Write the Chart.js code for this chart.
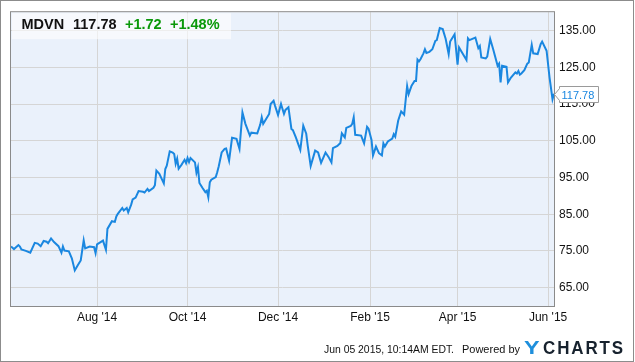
<!DOCTYPE html>
<html>
<head>
<meta charset="utf-8">
<title>MDVN</title>
<script src="https://cdn.jsdelivr.net/npm/chart.js@4.4.1/dist/chart.umd.min.js"></script>
<style>
    html, body { margin: 0; padding: 0; background: #fff; }
    canvas { display: block; }
</style>
</head>
<body>
<canvas id="chart" width="635" height="362"></canvas>
<script>
/* --------------------------
   DATA
-------------------------- */
const ticker = "MDVN";
const lastPrice = "117.78";
const change = "+1.72";
const changePct = "+1.48%";
const stamp = "Jun 05 2015, 10:14AM EDT.";

const dates = [
    "2014-06-04", "2014-06-06", "2014-06-09", "2014-06-10", "2014-06-11", "2014-06-14", "2014-06-17", "2014-06-20",
    "2014-06-22", "2014-06-24", "2014-06-26", "2014-06-28", "2014-06-29", "2014-07-01", "2014-07-03", "2014-07-06",
    "2014-07-08", "2014-07-09", "2014-07-10", "2014-07-13", "2014-07-15", "2014-07-17", "2014-07-19", "2014-07-21",
    "2014-07-23", "2014-07-24", "2014-07-27", "2014-07-30", "2014-07-31", "2014-08-01", "2014-08-05", "2014-08-07",
    "2014-08-08", "2014-08-11", "2014-08-13", "2014-08-14", "2014-08-15", "2014-08-18", "2014-08-19", "2014-08-21",
    "2014-08-22", "2014-08-24", "2014-08-25", "2014-08-27", "2014-08-29", "2014-09-01", "2014-09-02", "2014-09-04",
    "2014-09-05", "2014-09-08", "2014-09-09", "2014-09-10", "2014-09-12", "2014-09-15", "2014-09-16", "2014-09-17",
    "2014-09-19", "2014-09-21", "2014-09-22", "2014-09-23", "2014-09-24", "2014-09-25", "2014-09-27", "2014-09-29",
    "2014-09-30", "2014-10-01", "2014-10-02", "2014-10-03", "2014-10-06", "2014-10-07", "2014-10-08", "2014-10-09",
    "2014-10-11", "2014-10-13", "2014-10-14", "2014-10-15", "2014-10-16", "2014-10-17", "2014-10-20", "2014-10-21",
    "2014-10-22", "2014-10-24", "2014-10-26", "2014-10-27", "2014-10-29", "2014-10-31", "2014-11-03", "2014-11-05",
    "2014-11-07", "2014-11-09", "2014-11-12", "2014-11-13", "2014-11-17", "2014-11-19", "2014-11-20", "2014-11-21",
    "2014-11-25", "2014-11-26", "2014-11-28", "2014-11-29", "2014-12-01", "2014-12-03", "2014-12-05", "2014-12-06",
    "2014-12-08", "2014-12-10", "2014-12-11", "2014-12-13", "2014-12-16", "2014-12-18", "2014-12-20", "2014-12-21",
    "2014-12-23", "2014-12-26", "2014-12-28", "2014-12-30", "2015-01-02", "2015-01-04", "2015-01-06", "2015-01-07",
    "2015-01-10", "2015-01-12", "2015-01-13", "2015-01-15", "2015-01-16", "2015-01-19", "2015-01-20", "2015-01-21",
    "2015-01-22", "2015-01-26", "2015-01-28", "2015-01-30", "2015-01-31", "2015-02-02", "2015-02-03", "2015-02-05",
    "2015-02-07", "2015-02-09", "2015-02-10", "2015-02-11", "2015-02-13", "2015-02-16", "2015-02-17", "2015-02-18",
    "2015-02-20", "2015-02-22", "2015-02-24", "2015-02-26", "2015-02-27", "2015-03-01", "2015-03-03", "2015-03-04",
    "2015-03-05", "2015-03-06", "2015-03-07", "2015-03-09", "2015-03-10", "2015-03-11", "2015-03-13", "2015-03-15",
    "2015-03-17", "2015-03-18", "2015-03-20", "2015-03-22", "2015-03-24", "2015-03-26", "2015-03-27", "2015-03-30",
    "2015-04-01", "2015-04-02", "2015-04-04", "2015-04-07", "2015-04-08", "2015-04-09", "2015-04-13", "2015-04-15",
    "2015-04-16", "2015-04-17", "2015-04-20", "2015-04-21", "2015-04-23", "2015-04-25", "2015-04-28", "2015-04-29",
    "2015-04-30", "2015-05-01", "2015-05-04", "2015-05-05", "2015-05-07", "2015-05-10", "2015-05-11", "2015-05-12",
    "2015-05-13", "2015-05-14", "2015-05-16", "2015-05-18", "2015-05-19", "2015-05-21", "2015-05-22", "2015-05-25",
    "2015-05-27", "2015-05-28", "2015-05-31", "2015-06-02", "2015-06-04", "2015-06-05"
];

const prices = [
    76.2, 75.5, 76.6, 76.2, 75.4, 75.0, 74.5, 77.2,
    77.0, 76.3, 77.7, 77.5, 77.1, 78.4, 77.4, 76.3,
    74.5, 76.2, 75.1, 74.9, 73.0, 69.7, 71.1, 72.4,
    77.9, 75.7, 76.2, 76.0, 74.4, 76.8, 77.8, 75.3,
    81.0, 83.1, 82.9, 84.4, 85.1, 86.7, 86.0, 86.7,
    85.5, 87.6, 89.0, 89.5, 91.3, 91.1, 90.9, 91.9,
    91.3, 92.2, 92.9, 96.9, 96.0, 93.4, 97.3, 98.2,
    102.1, 101.8, 101.4, 98.7, 100.1, 97.4, 98.5, 99.8,
    98.9, 100.3, 99.2, 100.3, 99.1, 96.3, 97.8, 93.5,
    92.2, 91.0, 91.4, 89.6, 93.7, 94.4, 95.1, 96.4,
    98.0, 101.8, 102.8, 102.9, 99.6, 105.8, 105.5, 102.8,
    112.7, 109.6, 106.4, 107.2, 107.0, 109.4, 111.4, 109.6,
    112.3, 115.0, 115.9, 114.5, 112.0, 115.0, 112.3, 113.4,
    114.1, 108.2, 107.9, 105.9, 102.5, 109.1, 106.9, 103.7,
    98.1, 102.3, 101.8, 99.0, 101.8, 100.6, 99.1, 103.0,
    103.6, 104.4, 107.0, 105.9, 108.5, 109.0, 109.6, 111.4,
    106.6, 106.4, 104.3, 108.8, 108.3, 105.2, 101.0, 103.4,
    101.6, 101.0, 104.3, 103.4, 104.8, 105.6, 106.8, 106.1,
    110.5, 113.0, 112.1, 119.9, 117.7, 120.0, 121.3, 121.3,
    127.1, 126.6, 127.2, 128.8, 129.9, 128.9, 129.2, 129.9,
    132.2, 132.4, 135.7, 135.4, 132.7, 128.6, 132.0, 134.0,
    125.7, 130.4, 129.0, 127.0, 132.9, 132.4, 133.1, 130.2,
    130.8, 127.7, 127.4, 127.9, 132.7, 129.9, 125.4, 126.0,
    120.9, 125.4, 125.1, 120.9, 122.2, 123.6, 123.3, 124.0,
    123.0, 123.3, 124.2, 126.0, 126.3, 131.1, 128.8, 128.6,
    131.3, 132.0, 129.5, 122.2, 116.3, 117.78
];

const xTickDates = ["2014-08-01", "2014-10-01", "2014-12-01", "2015-02-01", "2015-04-01", "2015-06-01"];
const yTicks = [65, 75, 85, 95, 105, 115, 125, 135];
const xRange = ["2014-06-04", "2015-06-05"];
const yRange = [60, 140];

/* --------------------------
   HELPERS
-------------------------- */
const DAY = 86400000;
const MONTHS = ["Jan", "Feb", "Mar", "Apr", "May", "Jun", "Jul", "Aug", "Sep", "Oct", "Nov", "Dec"];
const FONT = "'Liberation Sans', Arial, Helvetica, sans-serif";

function toDay(s) {
    return Date.parse(s + "T00:00:00Z") / DAY;
}

function monthLabel(day) {
    const d = new Date(day * DAY);
    return MONTHS[d.getUTCMonth()] + " '" + String(d.getUTCFullYear()).slice(2);
}

/* --------------------------
   DECORATIONS
-------------------------- */
const chrome = {
    id: "chrome",
    beforeDraw(chart) {
        const { ctx, chartArea: a } = chart;
        ctx.save();
        ctx.fillStyle = "#ffffff";
        ctx.fillRect(0, 0, chart.width, chart.height);
        ctx.fillStyle = "#eaf1fb";
        ctx.fillRect(a.left, a.top, a.right - a.left, a.bottom - a.top);
        ctx.restore();
    },
    afterDraw(chart) {
        const { ctx, chartArea: a } = chart;
        ctx.save();

        // plot frame
        ctx.strokeStyle = "#8a8a8a";
        ctx.lineWidth = 1;
        ctx.strokeRect(a.left - 0.5, a.top - 0.5, a.right - a.left + 1, a.bottom - a.top + 1);

        // title box
        ctx.fillStyle = "rgba(255,255,255,0.6)";
        ctx.fillRect(a.left + 1, a.top + 1, 219, 26);
        ctx.textBaseline = "alphabetic";
        ctx.textAlign = "left";
        ctx.font = "bold 14.5px " + FONT;
        ctx.fillStyle = "#111111";
        ctx.fillText(ticker, 21.5, 28.5);
        ctx.fillText(lastPrice, 73, 28.5);
        ctx.fillStyle = "#0a980a";
        ctx.fillText(change, 125, 28.5);
        ctx.fillText(changePct, 170, 28.5);

        // last price callout
        const y = Math.round(chart.scales.y.getPixelForValue(prices[prices.length - 1])) + 0.5;
        const x0 = a.right + 0.5;
        const bx = x0 + 5;
        ctx.beginPath();
        ctx.moveTo(x0, y);
        ctx.lineTo(bx, y - 6);
        ctx.lineTo(bx, y - 8);
        ctx.lineTo(bx + 39, y - 8);
        ctx.lineTo(bx + 39, y + 8);
        ctx.lineTo(bx, y + 8);
        ctx.lineTo(bx, y + 6);
        ctx.closePath();
        ctx.fillStyle = "#ffffff";
        ctx.fill();
        ctx.strokeStyle = "#9a9a9a";
        ctx.stroke();
        ctx.font = "11px " + FONT;
        ctx.fillStyle = "#1a87e0";
        ctx.textBaseline = "middle";
        ctx.fillText(lastPrice, bx + 2, y + 1);

        // footer
        ctx.textBaseline = "alphabetic";
        ctx.font = "11px " + FONT;
        ctx.fillStyle = "#111111";
        ctx.fillText(stamp, 324, 353, 130);
        ctx.fillText("Powered by", 462, 353, 58);

        ctx.font = "bold 18px " + FONT;
        ctx.fillStyle = "#1e8fdc";
        ctx.save();
        ctx.translate(524, 354);
        ctx.scale(1.3, 1);
        ctx.fillText("Y", 0, 0);
        ctx.restore();
        if ("letterSpacing" in ctx) ctx.letterSpacing = "2px";
        ctx.fillStyle = "#17222e";
        ctx.fillText("CHARTS", 543, 354, 82);
        if ("letterSpacing" in ctx) ctx.letterSpacing = "0px";

        // outer frame
        ctx.strokeStyle = "#8c8c8c";
        ctx.strokeRect(0.5, 0.5, chart.width - 2, chart.height - 1);
        ctx.restore();
    }
};

/* --------------------------
   CHART
-------------------------- */
const points = dates.map((d, i) => ({ x: toDay(d), y: prices[i] }));

new Chart(document.getElementById("chart"), {
    type: "line",
    data: {
        datasets: [{
            data: points,
            borderColor: "#1a87e0",
            borderWidth: 2,
            pointRadius: 0,
            tension: 0,
            fill: false
        }]
    },
    options: {
        responsive: false,
        animation: false,
        layout: { padding: { left: 11, top: 10, right: 0, bottom: 0 } },
        plugins: {
            legend: { display: false },
            tooltip: { enabled: false }
        },
        scales: {
            x: {
                type: "linear",
                min: toDay(xRange[0]),
                max: toDay(xRange[1]),
                afterBuildTicks(scale) {
                    scale.ticks = xTickDates.map(d => ({ value: toDay(d) }));
                },
                afterFit(scale) { scale.height = 56; },
                border: { display: false },
                grid: { color: "#d5d5d5", drawTicks: false, lineWidth: 1 },
                ticks: {
                    padding: 4,
                    maxRotation: 0,
                    autoSkip: false,
                    color: "#111111",
                    font: { family: FONT, size: 12 },
                    callback: v => monthLabel(v)
                }
            },
            y: {
                position: "right",
                min: yRange[0],
                max: yRange[1],
                afterBuildTicks(scale) {
                    scale.ticks = yTicks.map(v => ({ value: v }));
                },
                afterFit(scale) { scale.width = 81; },
                border: { display: false },
                grid: { color: "#d5d5d5", drawTicks: false, lineWidth: 1 },
                ticks: {
                    padding: 5,
                    autoSkip: false,
                    color: "#111111",
                    font: { family: FONT, size: 12 },
                    callback: v => v.toFixed(2)
                }
            }
        }
    },
    plugins: [chrome]
});
</script>
</body>
</html>
